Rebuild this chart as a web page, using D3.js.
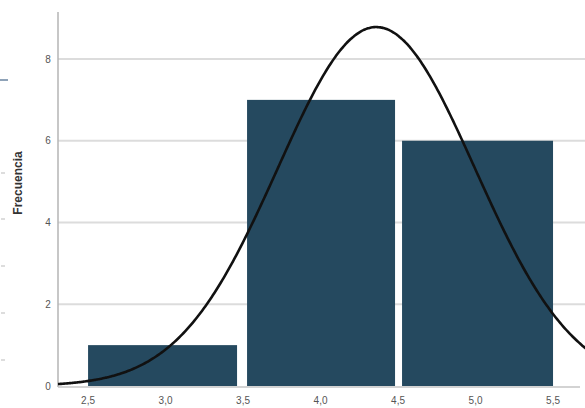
<!DOCTYPE html>
<html>
<head>
<meta charset="utf-8">
<script src="https://cdn.jsdelivr.net/npm/d3@7"></script>
<style>
  body { margin: 0; background: #fff; }
  svg { display: block; }
</style>
</head>
<body>
<div class="canvas"></div>
<script>
// histogram data
const binStart = [2.5, 3.5, 4.5];
const binEnd = [3.5, 4.5, 5.5];
const counts = [1, 7, 6];
const yTicks = [0, 2, 4, 6, 8];
const xTicks = [2.5, 3.0, 3.5, 4.0, 4.5, 5.0, 5.5];
// fitted normal curve
const curveMean = 4.36;
const curveSd = 0.636;
const curveN = 14;

const W = 585, H = 408;
var svg = d3.select(".canvas").append("svg").attr("width", W).attr("height", H);

let x = d3.scaleLinear().domain([2.306, 5.674]).range([58, 580]);
let y = d3.scaleLinear().domain([0, 9.15]).range([386, 12]);

// stray marks at the left edge (cropped neighbour)
svg.append('line').attr('x1', 0).attr('x2', 8).attr('y1', 80).attr('y2', 80)
    .attr('stroke', '#8fa3b8').attr('stroke-width', 2);
[173, 219, 266, 313, 360].forEach(v => {
    svg.append('line').attr('x1', 1).attr('x2', 5).attr('y1', v).attr('y2', v)
        .attr('stroke', '#bbb').attr('stroke-width', 1);
});

// gridlines
svg.append('g').selectAll('line').data(yTicks.filter(d => d > 0)).join('line')
    .attr('x1', 58).attr('x2', 585)
    .attr('y1', d => y(d)).attr('y2', d => y(d))
    .attr('stroke', '#dcdcdc').attr('stroke-width', 2);

// bars
svg.append('g').selectAll('rect').data(counts).join('rect')
    .attr('x', (d, i) => x(binStart[i]) + (i == 0 ? 0 : 4))
    .attr('width', (d, i) => x(binEnd[i]) - x(binStart[i]) - (i == 0 ? 6 : (i == 1 ? 7 : 4)))
    .attr('y', d => y(d))
    .attr('height', d => y(0) - y(d))
    .attr('fill', '#25495f');

// axes lines
svg.append('line').attr('x1', 58).attr('x2', 58).attr('y1', 12).attr('y2', 387)
    .attr('stroke', '#b5b5b5').attr('stroke-width', 1.5);
svg.append('line').attr('x1', 58).attr('x2', 580).attr('y1', 387).attr('y2', 387)
    .attr('stroke', '#c4c4c4').attr('stroke-width', 1.5);

// normal curve
let pts = d3.range(x.invert(58), x.invert(600), 0.01);
let line = d3.line()
    .x(d => x(d))
    .y(d => y(curveN * Math.exp(-0.5 * Math.pow((d - curveMean) / curveSd, 2)) / (curveSd * Math.sqrt(2 * Math.PI))))
    .curve(d3.curveBasis);
svg.append('path').datum(pts).attr('d', line)
    .attr('fill', 'none').attr('stroke', '#111').attr('stroke-width', 2.6);

// tick labels
svg.append('g').selectAll('text').data(yTicks).join('text')
    .text(d => d)
    .attr('x', 48).attr('y', d => y(d) + 3.5)
    .attr('text-anchor', 'middle')
    .attr('font-size', 10).attr('font-family', 'Liberation Sans, Arial, sans-serif')
    .attr('fill', '#555');

svg.append('g').selectAll('text').data(xTicks).join('text')
    .text(d => d.toFixed(1).replace('.', ','))
    .attr('x', d => x(d)).attr('y', 404)
    .attr('text-anchor', 'middle')
    .attr('font-size', 10).attr('font-family', 'Liberation Sans, Arial, sans-serif')
    .attr('fill', '#555');

// y axis title
svg.append('text')
    .text('Frecuencia')
    .attr('transform', 'translate(22,183) rotate(-90)')
    .attr('text-anchor', 'middle')
    .attr('font-size', 12).attr('font-weight', 'bold')
    .attr('font-family', 'Liberation Sans, Arial, sans-serif')
    .attr('fill', '#333');
</script>
</body>
</html>
